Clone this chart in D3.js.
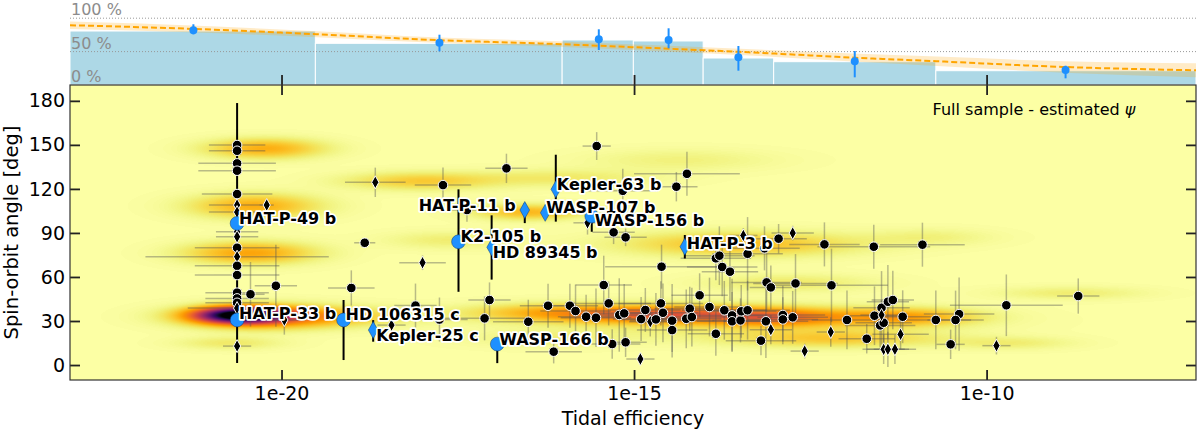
<!DOCTYPE html>
<html>
<head>
<meta charset="utf-8">
<script src="https://cdn.jsdelivr.net/npm/d3@7"></script>
<style>
  body { margin: 0; background: #fff; }
  svg { display: block; font-family: "DejaVu Sans", sans-serif; }
</style>
</head>
<body>
<svg id="chart" width="1200" height="432"></svg>
<script>
// ---- top panel: fraction of misaligned systems per tidal-efficiency bin (%)
const fracBinEdges = [-23.0, -19.52, -16.02, -15.01, -14.02, -13.02, -10.72, -7.03];
const fracBinValues = [80.8, 62.4, 67.4, 65.9, 40.4, 34.9, 21.4];
const fracPointEta = [-21.25, -17.76, -15.5, -14.51, -13.52, -11.87, -8.88];
const fracPointValue = [81.8, 63.3, 68.4, 67.4, 41.5, 35.5, 22.5];
const fracPointErrHigh = [9.1, 12, 15, 17.5, 16.9, 15.4, 6.4];
const fracPointErrLow = [5.9, 12.9, 16, 12.5, 20.1, 24, 12.5];
const trendEta = [-23, -21, -19.5, -17.75, -16, -15, -14, -13, -11.9, -10.7, -8.9, -7.03];
const trendValue = [89.5, 83, 76, 67, 61, 56.5, 52, 47, 41, 35.5, 27, 22];
const trendBand = [5.5, 5, 4.5, 4, 4, 4, 4.5, 5, 6, 7, 8.5, 10.5];
const fracTicks = [0, 50, 100];

// ---- main panel: systems sharing the same (unknown) tidal efficiency
const stripEtaLog = -20.63;
const stripPsi = [149.9, 146.0, 137.4, 132.4, 116.5, 109.0, 104.2, 90.8, 87.4, 79.9, 73.8, 67.6, 61.3, 49.3, 45.4, 42.4, 38.8, 12.9];
const stripEtaErr = [0.4, 0.4, 0.55, 0.55, 0.5, 0.4, 0.4, 0.3, 0.3, 0.6, 1.3, 0.6, 0.6, 0.45, 0.45, 0.45, 0.7, 0.2];
const stripMarker = ['o', 'o', 'o', 'o', 'o', 'd', 'd', 'd', 'd', 'o', 'd', 'o', 'o', 'o', 'o', 'o', 'd', 'd'];

// [log10 efficiency, psi, err log10 efficiency, err psi, marker]
const samplePoints = [
  [-20.21, 109.0, 0.1, 3, 'd'], [-18.67, 124.5, 0.43, 10, 'd'], [-18.82, 83.3, 0.15, 3, 'o'],
  [-20.08, 54.0, 0.3, 28, 'o'], [-20.44, 48.2, 0.2, 22, 'o'], [-19.01, 52.5, 0.33, 12, 'o'],
  [-18.44, 27.2, 0.2, 10, 'd'], [-18.10, 40.5, 0.3, 15, 'o'], [-17.76, 31.0, 0.4, 15, 'o'],
  [-19.96, 30.7, 0.3, 10, 'd'], [-18.00, 69.7, 0.33, 5, 'd'], [-17.71, 122.6, 0.4, 12, 'o'],
  [-16.81, 134.0, 0.3, 10, 'o'], [-15.53, 149.2, 0.2, 9.5, 'o'], [-17.37, 105.6, 0.3, 8, 'o'],
  [-17.05, 44.3, 0.3, 12, 'o'], [-17.12, 31.8, 0.6, 15, 'o'], [-16.50, 29.5, 0.5, 15, 'o'],
  [-16.14, 9.1, 0.4, 8, 'o'], [-16.22, 40.4, 0.4, 15, 'o'], [-15.91, 40.4, 0.4, 15, 'o'],
  [-15.83, 36.8, 0.5, 18, 'o'], [-15.68, 32.9, 0.4, 15, 'o'], [-15.54, 32.2, 0.5, 20, 'o'],
  [-15.43, 54.5, 0.4, 20, 'o'], [-15.36, 42.0, 0.6, 15, 'o'], [-15.21, 34.1, 0.5, 25, 'o'],
  [-15.14, 35.2, 0.4, 20, 'o'], [-15.31, 14.3, 0.4, 10, 'o'], [-15.12, 15.5, 0.3, 10, 'o'],
  [-15.29, 90.4, 0.3, 8, 'o'], [-15.12, 87.0, 0.3, 6, 'o'], [-15.66, 96.9, 0.2, 8, 'd'],
  [-15.16, 118.7, 0.5, 15, 'o'], [-14.40, 121.5, 0.3, 10, 'o'], [-14.25, 130.3, 0.75, 15, 'o'],
  [-14.61, 67.0, 0.8, 15, 'o'], [-14.84, 37.5, 0.5, 15, 'o'], [-14.90, 31.3, 0.4, 15, 'o'],
  [-14.77, 29.5, 0.3, 10, 'd'], [-14.69, 31.1, 0.5, 18, 'o'], [-14.62, 42.0, 0.6, 15, 'o'],
  [-14.59, 35.6, 0.5, 20, 'o'], [-14.46, 30.2, 0.6, 25, 'o'], [-14.46, 23.8, 0.5, 15, 'o'],
  [-14.91, 4.1, 0.2, 4, 'd'], [-14.26, 31.5, 0.5, 20, 'o'], [-14.21, 38.4, 0.5, 15, 'o'],
  [-14.18, 32.7, 0.6, 20, 'o'], [-14.07, 47.5, 0.4, 15, 'o'], [-13.93, 39.5, 0.5, 20, 'o'],
  [-13.84, 21.3, 0.4, 15, 'o'], [-13.72, 37.3, 0.6, 20, 'o'], [-13.61, 33.8, 0.5, 25, 'o'],
  [-13.61, 29.8, 0.5, 20, 'o'], [-13.49, 30.4, 0.4, 15, 'o'], [-13.48, 36.6, 0.5, 18, 'o'],
  [-13.39, 37.3, 0.6, 20, 'o'], [-13.20, 16.6, 0.5, 10, 'o'], [-13.13, 29.8, 0.6, 25, 'o'],
  [-13.06, 24.1, 0.3, 10, 'd'], [-12.89, 34.1, 0.6, 20, 'o'], [-12.89, 31.1, 0.5, 15, 'o'],
  [-12.75, 32.5, 0.5, 18, 'o'], [-12.58, 9.5, 0.2, 5, 'd'], [-12.21, 22.5, 0.2, 10, 'd'],
  [-11.98, 30.7, 0.5, 20, 'o'], [-11.70, 17.9, 0.4, 10, 'o'], [-11.59, 33.6, 0.4, 20, 'o'],
  [-11.49, 39.0, 0.4, 25, 'o'], [-11.40, 43.1, 0.3, 25, 'o'], [-11.33, 44.3, 0.3, 20, 'o'],
  [-11.51, 27.0, 0.5, 15, 'o'], [-11.46, 28.8, 0.4, 15, 'o'], [-11.49, 34.1, 0.3, 10, 'd'],
  [-11.19, 32.9, 0.4, 18, 'o'], [-11.22, 20.9, 0.4, 10, 'd'], [-11.46, 10.7, 0.3, 10, 'd'],
  [-11.40, 10.7, 0.3, 12, 'd'], [-11.30, 10.7, 0.3, 10, 'd'], [-10.72, 30.7, 0.5, 20, 'o'],
  [-10.39, 34.7, 0.5, 25, 'o'], [-10.44, 30.7, 0.4, 20, 'o'], [-10.51, 14.1, 0.2, 10, 'o'],
  [-9.86, 13.2, 0.2, 6, 'd'], [-9.72, 40.7, 0.8, 21, 'o'], [-8.70, 47.0, 0.3, 12, 'o'],
  [-10.91, 82.0, 0.6, 15, 'o'], [-11.60, 80.6, 0.8, 15, 'o'], [-12.30, 82.2, 0.5, 15, 'o'],
  [-12.75, 89.9, 0.3, 5, 'd'], [-12.95, 86.1, 0.4, 10, 'o'], [-13.15, 79.5, 0.5, 15, 'o'],
  [-13.45, 88.3, 0.2, 5, 'd'], [-13.39, 75.8, 0.5, 25, 'o'], [-13.84, 72.7, 0.5, 15, 'o'],
  [-13.79, 74.5, 0.5, 20, 'o'], [-13.75, 66.8, 0.5, 20, 'o'], [-13.64, 63.6, 0.4, 20, 'o'],
  [-13.12, 56.3, 0.5, 20, 'o'], [-13.06, 52.9, 0.3, 15, 'o'], [-12.71, 55.6, 0.6, 20, 'o'],
  [-12.20, 54.3, 0.8, 25, 'o']
];

// highlighted planets
const planetNames = ['HAT-P-33 b', 'HAT-P-49 b', 'HD 106315 c', 'Kepler-25 c', 'K2-105 b', 'HD 89345 b',
  'HAT-P-11 b', 'WASP-107 b', 'Kepler-63 b', 'WASP-156 b', 'HAT-P-3 b', 'WASP-166 b'];
const planetEtaLog = [-20.63, -20.63, -19.12, -18.70, -17.49, -17.02, -16.55, -16.26, -16.11, -15.60, -14.28, -16.94];
const planetPsi = [30.7, 96.5, 30.7, 23.8, 84.0, 80.2, 105.6, 103.7, 119.7, 101.5, 80.6, 14.3];
const planetPsiErrLow = [29.3, 45, 27.3, 7.9, 34.1, 22, 8.9, 0, 22, 10.7, 8, 13];
const planetPsiErrHigh = [22, 82, 13.6, 6.8, 35.7, 21.8, 4.7, 0, 23.6, 4, 8, 3];
const planetMarker = ['o', 'o', 'o', 'd', 'o', 'd', 'd', 'd', 'd', 'o', 'd', 'o'];

// estimated-psi density components [log10 eff, psi, spread log10, spread psi, weight]
const densityBlobs = [
  [-20.24, 147.5, 0.55, 4.5, 0.18], [-20.38, 108.3, 0.6, 5.5, 0.18], [-20.45, 76.3, 0.6, 5, 0.2],
  [-20.6, 34, 0.4, 3.5, 0.9], [-20.3, 33, 0.7, 5, 0.3], [-19.5, 33, 0.9, 4.5, 0.12],
  [-20.74, 15, 0.5, 3, 0.06],
  [-18.04, 125.3, 0.7, 4, 0.12], [-16.06, 127.4, 0.9, 4, 0.06], [-14.35, 139.6, 0.9, 5, 0.04],
  [-16.48, 104.2, 0.5, 3.5, 0.16], [-13.5, 82.4, 1.1, 5.5, 0.15], [-17.62, 85.1, 0.6, 4, 0.05],
  [-10.8, 87, 0.6, 4, 0.04], [-12.8, 55.9, 0.8, 4, 0.06], [-14.5, 34.5, 1.1, 4, 0.33],
  [-13.5, 30, 1.8, 7, 0.07],
  [-16.2, 36, 0.8, 4, 0.12], [-11.23, 32.7, 0.7, 4, 0.2], [-12.94, 32, 0.6, 4, 0.2],
  [-12.2, 18, 1.0, 4, 0.12], [-9.67, 15, 0.6, 3, 0.05], [-8.82, 49, 0.7, 3, 0.05],
  [-16.2, 18, 0.8, 4, 0.04]
];

const psiTicks = [0, 30, 60, 90, 120, 150, 180];
const etaTicks = [1e-20, 1e-15, 1e-10];

// ---- layout (style only)
const plotL = 70, plotR = 1196, plotT = 85, plotB = 380;
const labelOffset = [[2, -7, 'start'], [2, -5, 'start'], [2, -6, 'start'], [3, 5, 'start'], [2, -5, 'start'],
  [1, 5, 'start'], [-9, -5, 'end'], [1, -5, 'start'], [1, -5, 'start'], [3, 4, 'start'], [2, -3, 'start'], [2, -5, 'start']];

const svg = d3.select('#chart');
const x = d3.scaleLog().domain([1e-23, Math.pow(10, -7.03)]).range([plotL, plotR]);
const y = d3.scaleLinear().domain([-10.2, 190.8]).range([plotB, plotT]);
const yTop = d3.scaleLinear().domain([0, 100]).range([plotT, plotT - 66.8]);
const ex = (v) => x(Math.pow(10, v));

// ---- top panel
const topPanel = svg.append('g');
topPanel.selectAll('rect')
  .data(fracBinValues)
  .enter()
  .append('rect')
  .attr('x', (d, i) => ex(fracBinEdges[i]))
  .attr('width', (d, i) => ex(fracBinEdges[i + 1]) - ex(fracBinEdges[i]))
  .attr('y', d => yTop(d))
  .attr('height', d => yTop(0) - yTop(d))
  .style('fill', '#add8e6')
  .style('stroke', '#fff')
  .style('stroke-width', 1);

topPanel.selectAll('line.grid')
  .data([50, 100])
  .enter()
  .append('line')
  .attr('x1', plotL).attr('x2', plotR)
  .attr('y1', d => yTop(d)).attr('y2', d => yTop(d))
  .style('stroke', '#999')
  .style('stroke-width', 1)
  .style('stroke-dasharray', '1,2');

topPanel.selectAll('text.pct')
  .data(fracTicks)
  .enter()
  .append('text')
  .attr('x', plotL + 1)
  .attr('y', d => yTop(d) - 3)
  .text(d => `${d} %`)
  .style('fill', '#8c8c8c')
  .style('font-size', '16px');

const trend = trendEta.map((e, i) => ({ e, v: trendValue[i], b: trendBand[i] }));
topPanel.append('path')
  .datum(trend)
  .attr('d', d3.area().x(d => ex(d.e)).y0(d => yTop(d.v - d.b)).y1(d => yTop(d.v + d.b)).curve(d3.curveMonotoneX))
  .style('fill', 'orange')
  .style('fill-opacity', 0.22);
topPanel.append('path')
  .datum(trend)
  .attr('d', d3.line().x(d => ex(d.e)).y(d => yTop(d.v)).curve(d3.curveMonotoneX))
  .style('fill', 'none')
  .style('stroke', '#ffa500')
  .style('stroke-width', 2)
  .style('stroke-dasharray', '6,3');

const fracPts = fracPointEta.map((e, i) => ({ e, v: fracPointValue[i], hi: fracPointErrHigh[i], lo: fracPointErrLow[i] }));
topPanel.selectAll('line.err')
  .data(fracPts)
  .enter()
  .append('line')
  .attr('x1', d => ex(d.e)).attr('x2', d => ex(d.e))
  .attr('y1', d => yTop(d.v + d.hi)).attr('y2', d => yTop(d.v - d.lo))
  .style('stroke', '#1e90ff')
  .style('stroke-width', 2);
topPanel.selectAll('circle')
  .data(fracPts)
  .enter()
  .append('circle')
  .attr('cx', d => ex(d.e))
  .attr('cy', d => yTop(d.v))
  .attr('r', 4)
  .style('fill', '#1e90ff');

// ---- density field (estimated psi)
const pw = plotR - plotL, ph = plotB - plotT;
const canvas = document.createElement('canvas');
canvas.width = pw; canvas.height = ph;
const ctx = canvas.getContext('2d');
const field = new Float32Array(pw * ph);
const colLog = d3.range(pw).map(i => Math.log10(x.invert(plotL + i + 0.5)));
const rowPsi = d3.range(ph).map(j => y.invert(plotT + j + 0.5));
densityBlobs.forEach(([e0, p0, se, sp, w]) => {
  const gx = colLog.map(v => Math.exp(-0.5 * ((v - e0) / se) ** 2));
  const gy = rowPsi.map(v => Math.exp(-0.5 * ((v - p0) / sp) ** 2));
  for (let j = 0; j < ph; j += 1) {
    if (gy[j] < 1e-4) continue;
    const row = j * pw;
    for (let i = 0; i < pw; i += 1) field[row + i] += w * gx[i] * gy[j];
  }
});
const lut = d3.range(256).map(k => d3.rgb(d3.interpolateInferno(1 - k / 255)));
const img = ctx.createImageData(pw, ph);
for (let k = 0; k < field.length; k += 1) {
  const c = lut[Math.round(Math.min(1, field[k]) * 255)];
  img.data[4 * k] = c.r; img.data[4 * k + 1] = c.g; img.data[4 * k + 2] = c.b; img.data[4 * k + 3] = 255;
}
ctx.putImageData(img, 0, 0);
svg.append('image')
  .attr('x', plotL).attr('y', plotT)
  .attr('width', pw).attr('height', ph)
  .attr('preserveAspectRatio', 'none')
  .attr('href', canvas.toDataURL());

// ---- markers
const diamond = (hw, hh) => `M0,${-hh}L${hw},0L0,${hh}L${-hw},0Z`;
const main = svg.append('g');

const allPoints = stripPsi.map((p, i) => [stripEtaLog, p, stripEtaErr[i], 0, stripMarker[i]]).concat(samplePoints);

main.selectAll('line.xerr')
  .data(allPoints)
  .enter()
  .append('line')
  .attr('x1', d => ex(d[0] - d[2])).attr('x2', d => ex(d[0] + d[2]))
  .attr('y1', d => y(d[1])).attr('y2', d => y(d[1]))
  .style('stroke', '#555')
  .style('stroke-opacity', 0.4)
  .style('stroke-width', 1.5);
main.selectAll('line.yerr')
  .data(allPoints.filter(d => d[3] > 0))
  .enter()
  .append('line')
  .attr('x1', d => ex(d[0])).attr('x2', d => ex(d[0]))
  .attr('y1', d => y(d[1] - d[3])).attr('y2', d => y(d[1] + d[3]))
  .style('stroke', '#555')
  .style('stroke-opacity', 0.4)
  .style('stroke-width', 1.5);

const planets = planetNames.map((n, i) => ({
  n, e: planetEtaLog[i], p: planetPsi[i], lo: planetPsiErrLow[i], hi: planetPsiErrHigh[i], m: planetMarker[i], off: labelOffset[i]
}));
main.selectAll('line.perr')
  .data(planets.filter(d => d.lo + d.hi > 0))
  .enter()
  .append('line')
  .attr('x1', d => ex(d.e)).attr('x2', d => ex(d.e))
  .attr('y1', d => y(d.p - d.lo)).attr('y2', d => y(d.p + d.hi))
  .style('stroke', '#000')
  .style('stroke-width', 2);

main.selectAll('path.pt')
  .data(allPoints)
  .enter()
  .append('path')
  .attr('transform', d => `translate(${ex(d[0])},${y(d[1])})`)
  .attr('d', d => (d[4] === 'd' ? diamond(3.6, 6.5) : d3.symbol(d3.symbolCircle, 72)()))
  .style('fill', '#000')
  .style('stroke', '#fff')
  .style('stroke-width', 1);

main.selectAll('path.planet')
  .data(planets)
  .enter()
  .append('path')
  .attr('transform', d => `translate(${ex(d.e)},${y(d.p)})`)
  .attr('d', d => (d.m === 'd' ? diamond(4.8, 8.5) : d3.symbol(d3.symbolCircle, 150)()))
  .style('fill', '#1e90ff')
  .style('stroke', '#0b3d78')
  .style('stroke-width', 0.5);

main.selectAll('text.lbl')
  .data(planets)
  .enter()
  .append('text')
  .attr('x', d => ex(d.e) + d.off[0])
  .attr('y', d => y(d.p) + d.off[1])
  .attr('dy', '0.35em')
  .attr('text-anchor', d => d.off[2])
  .text(d => d.n)
  .style('font-size', '16px')
  .style('font-weight', 'bold')
  .style('fill', '#000')
  .style('stroke', '#fff')
  .style('stroke-width', 3.5)
  .style('stroke-linejoin', 'round')
  .style('paint-order', 'stroke');

// ---- axes
const styleAxis = (g) => {
  g.select('.domain').remove();
  g.selectAll('.tick line').style('stroke', '#222').style('stroke-width', 1.8);
  g.selectAll('.tick text').style('font-size', '19px').style('fill', '#000').style('font-family', '"DejaVu Sans", sans-serif');
};
svg.append('g')
  .attr('transform', `translate(${plotL},0)`)
  .call(d3.axisLeft(y).tickValues(psiTicks).tickSize(-10).tickPadding(5))
  .call(styleAxis);
svg.append('g')
  .attr('transform', `translate(${plotR},0)`)
  .call(d3.axisRight(y).tickValues(psiTicks).tickSize(-10).tickFormat(''))
  .call(styleAxis);
svg.append('g')
  .attr('transform', `translate(0,${plotB})`)
  .call(d3.axisBottom(x).tickValues(etaTicks).tickSize(-10).tickPadding(7)
    .tickFormat(d => `1e${Math.round(Math.log10(d))}`))
  .call(styleAxis);
svg.append('g')
  .attr('transform', `translate(0,${plotT})`)
  .call(d3.axisTop(x).tickValues(etaTicks).tickSize(10).tickFormat(''))
  .call(styleAxis)
  .call(g => g.selectAll('.tick line').attr('y1', 10).attr('y2', -10));

svg.append('rect')
  .attr('x', plotL).attr('y', plotT)
  .attr('width', pw).attr('height', ph)
  .style('fill', 'none')
  .style('stroke', '#333')
  .style('stroke-width', 1.2);

svg.append('text')
  .attr('x', (plotL + plotR) / 2)
  .attr('y', 425)
  .attr('text-anchor', 'middle')
  .style('font-size', '19px')
  .text('Tidal efficiency');
svg.append('text')
  .attr('transform', `translate(18,${(plotT + plotB) / 2}) rotate(-90)`)
  .attr('text-anchor', 'middle')
  .style('font-size', '19.5px')
  .text('Spin-orbit angle [deg]');

const note = svg.append('text')
  .attr('x', 1034)
  .attr('y', 115)
  .attr('text-anchor', 'middle')
  .style('font-size', '16px')
  .text('Full sample - estimated ');
note.append('tspan').style('font-style', 'italic').text('ψ');
</script>
</body>
</html>
